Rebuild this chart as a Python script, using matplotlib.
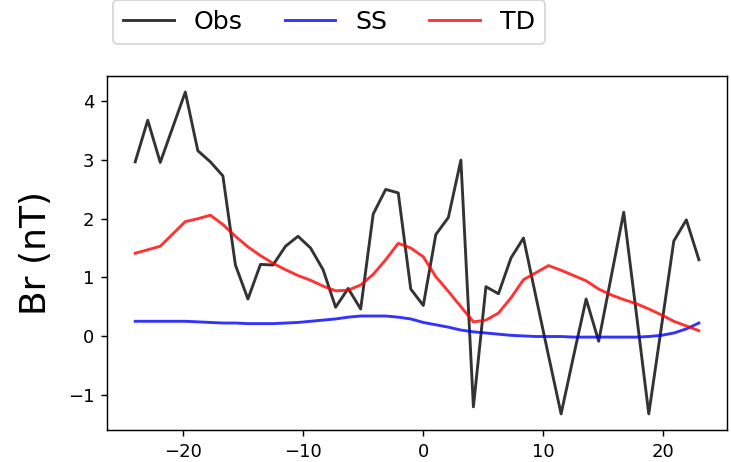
import numpy as np
import matplotlib
matplotlib.use("Agg")
import matplotlib.pyplot as plt

# time axis (hours), 46 samples from -24 to 23
hours = np.linspace(-24, 23, 46)

obs = [2.97, 3.68, 2.96, 3.56, 4.16, 3.16, 2.97, 2.73, 1.21, 0.63,
       1.22, 1.21, 1.53, 1.70, 1.50, 1.13, 0.49, 0.81, 0.46, 2.08,
       2.50, 2.44, 0.80, 0.52, 1.73, 2.02, 3.00, -1.21, 0.84, 0.72,
       1.33, 1.67, 0.66, -0.34, -1.33, -0.34, 0.63, -0.09, 1.01, 2.11,
       0.40, -1.33, 0.14, 1.62, 1.98, 1.30]

ss = [0.25, 0.25, 0.25, 0.25, 0.25, 0.24, 0.23, 0.22, 0.22, 0.21,
      0.21, 0.21, 0.22, 0.23, 0.25, 0.27, 0.29, 0.32, 0.34, 0.34,
      0.34, 0.32, 0.29, 0.23, 0.19, 0.15, 0.10, 0.07, 0.05, 0.03,
      0.01, 0.00, -0.01, -0.01, -0.01, -0.02, -0.02, -0.02, -0.02, -0.02,
      -0.02, -0.01, 0.01, 0.05, 0.12, 0.22]

td = [1.41, 1.47, 1.53, 1.74, 1.95, 2.00, 2.06, 1.90, 1.70, 1.52,
      1.37, 1.24, 1.13, 1.03, 0.95, 0.85, 0.77, 0.78, 0.87, 1.05,
      1.30, 1.58, 1.50, 1.35, 1.01, 0.76, 0.50, 0.24, 0.27, 0.39,
      0.65, 0.96, 1.08, 1.20, 1.12, 1.03, 0.94, 0.80, 0.70, 0.62,
      0.55, 0.46, 0.36, 0.25, 0.17, 0.09]

fig = plt.figure(figsize=(731 / 130, 462 / 130), dpi=130)
ax = fig.add_axes([0.1464, 0.0693, 0.8482, 0.7662])

ax.plot(hours, obs, color="k", alpha=0.8, lw=1.6, label="Obs")
ax.plot(hours, ss, color="b", alpha=0.8, lw=1.6, label="SS")
ax.plot(hours, td, color="r", alpha=0.8, lw=1.6, label="TD")

ax.set_ylabel("Br (nT)", fontsize=20, labelpad=8)
ax.set_xticks([-20, -10, 0, 10, 20])
ax.set_yticks([-1, 0, 1, 2, 3, 4])

ax.legend(loc="lower left", bbox_to_anchor=(0.0097, 1.09), ncol=3,
          fontsize=14, borderaxespad=0, columnspacing=1.65)

fig.savefig("out.png", dpi=130)
plt.close(fig)
